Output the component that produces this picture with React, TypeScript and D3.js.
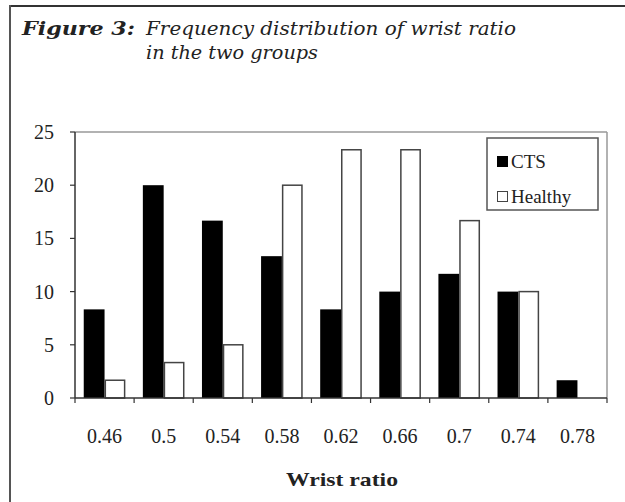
import React from "react";
import * as d3 from "d3";

const categories = ["0.46", "0.5", "0.54", "0.58", "0.62", "0.66", "0.7", "0.74", "0.78"];
const ctsValues = [8.33, 20, 16.67, 13.33, 8.33, 10, 11.67, 10, 1.67];
const healthyValues = [1.67, 3.33, 5, 20, 23.33, 23.33, 16.67, 10, 0];
const seriesNames = ["CTS", "Healthy"];
const yTicks = [0, 5, 10, 15, 20, 25];

const W = 625;
const H = 502;
const left = 75;
const right = 607;
const top = 132;
const bottom = 398;

export default function App() {
  const x = d3.scaleBand<string>().domain(categories).range([left, right]).paddingInner(0).paddingOuter(0);
  const xs = d3.scaleBand<string>().domain(seriesNames).range([0, x.bandwidth()]).paddingInner(0).paddingOuter(0.42);
  const y = d3.scaleLinear().domain([0, 25]).range([bottom, top]);
  const serif = "Liberation Serif";
  const titleFont = "DejaVu Serif";
  const boundaries = [...categories.map((c) => x(c)!), right];

  return (
    <svg width={W} height={H} style={{ position: "absolute", left: 0, top: 0, background: "#fff" }}>
      {/* frame */}
      <line x1={10} x2={W} y1={6} y2={6} stroke="#333" strokeWidth={2} />
      <line x1={10} x2={10} y1={5} y2={H} stroke="#555" strokeWidth={2} />

      {/* title */}
      <text x={22} y={35} fontFamily={titleFont} fontSize={19} fontStyle="italic" fontWeight="bold" fill="#222"
        textLength={113} lengthAdjust="spacingAndGlyphs">
        Figure 3:
      </text>
      <text x={146} y={35} fontFamily={titleFont} fontSize={19} fontStyle="italic" fill="#222"
        textLength={370} lengthAdjust="spacingAndGlyphs">
        Frequency distribution of wrist ratio
      </text>
      <text x={146} y={59} fontFamily={titleFont} fontSize={19} fontStyle="italic" fill="#222"
        textLength={172} lengthAdjust="spacingAndGlyphs">
        in the two groups
      </text>

      {/* plot border */}
      <line x1={left} x2={right} y1={top} y2={top} stroke="#999" strokeWidth={1.5} />
      <line x1={right} x2={right} y1={top} y2={bottom} stroke="#999" strokeWidth={1.5} />

      {/* bars */}
      {categories.map((c, i) => (
        <g key={c}>
          <rect
            x={x(c)! + xs("CTS")!}
            y={y(ctsValues[i])}
            width={xs.bandwidth()}
            height={bottom - y(ctsValues[i])}
            fill="#000"
          />
          {healthyValues[i] > 0 && (
            <rect
              x={x(c)! + xs("Healthy")! + 0.75}
              y={y(healthyValues[i])}
              width={xs.bandwidth() - 1.5}
              height={bottom - y(healthyValues[i])}
              fill="#fff"
              stroke="#444"
              strokeWidth={1.5}
            />
          )}
        </g>
      ))}

      {/* y axis */}
      <line x1={left} x2={left} y1={top} y2={bottom} stroke="#333" strokeWidth={1.5} />
      {yTicks.map((t) => (
        <g key={t}>
          <line x1={left - 5} x2={left} y1={y(t)} y2={y(t)} stroke="#333" strokeWidth={1.2} />
          <text x={54} y={y(t) + 7} textAnchor="end" fontFamily={serif} fontSize={20} fill="#222">
            {t}
          </text>
        </g>
      ))}

      {/* x axis */}
      <line x1={left} x2={right} y1={bottom} y2={bottom} stroke="#333" strokeWidth={1.5} />
      {boundaries.map((b, i) => (
        <line key={i} x1={b} x2={b} y1={bottom} y2={bottom + 5} stroke="#333" strokeWidth={1.2} />
      ))}
      {categories.map((c) => (
        <text key={c} x={x(c)! + x.bandwidth() / 2} y={443} textAnchor="middle" fontFamily={serif} fontSize={20} fill="#222">
          {c}
        </text>
      ))}
      <text x={342} y={486} textAnchor="middle" fontFamily={serif} fontSize={19} fontWeight="bold" fill="#222"
        textLength={112} lengthAdjust="spacingAndGlyphs">
        Wrist ratio
      </text>

      {/* legend */}
      <rect x={487} y={138} width={111} height={72} fill="#fff" stroke="#555" strokeWidth={1.5} />
      <rect x={497} y={156} width={11} height={11} fill="#000" />
      <text x={511} y={168} fontFamily={serif} fontSize={19} fill="#222">
        {seriesNames[0]}
      </text>
      <rect x={497.5} y={191.5} width={10} height={10} fill="#fff" stroke="#444" strokeWidth={1} />
      <text x={511} y={203} fontFamily={serif} fontSize={19} fill="#222">
        {seriesNames[1]}
      </text>
    </svg>
  );
}
